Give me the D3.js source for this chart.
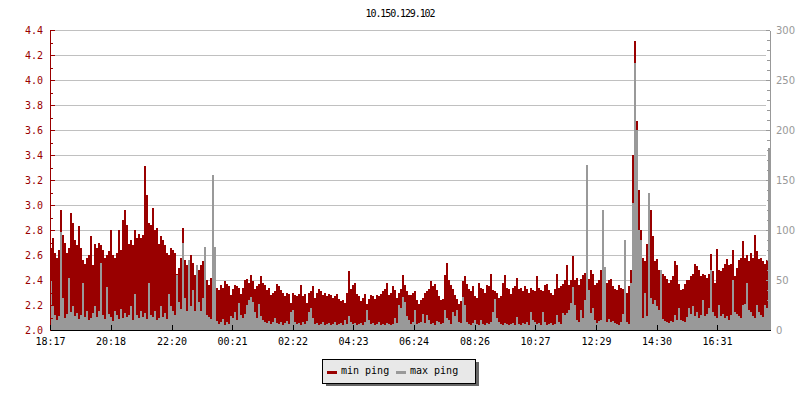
<!DOCTYPE html>
<html><head><meta charset="utf-8">
<script src="https://cdn.jsdelivr.net/npm/d3@7"></script>
<style>body{margin:0;background:#fff}svg{display:block}</style>
</head><body><svg id="c" width="800" height="400"></svg>
<script>
const title = "10.150.129.102";
const seriesNames = ["min ping", "max ping"];
const timeLabels = ["18:17","20:18","22:20","00:21","02:22","04:23","06:24","08:26","10:27","12:29","14:30","16:31"];
const leftTicks = [2.0,2.2,2.4,2.6,2.8,3.0,3.2,3.4,3.6,3.8,4.0,4.2,4.4];
const rightTicks = [0,50,100,150,200,250,300];

// min ping (left axis), one value per 4-minute slot
const minPing = [
2.66,2.74,2.62,2.58,2.64,2.96,2.76,2.70,2.62,2.66,
2.94,2.86,2.72,2.68,2.83,2.66,2.56,2.53,2.58,2.60,
2.75,2.52,2.69,2.66,2.70,2.68,2.64,2.58,2.60,2.63,
2.80,2.60,2.58,2.62,2.80,2.64,2.88,2.96,2.84,2.69,
2.72,2.68,2.80,2.74,2.77,2.74,2.76,3.31,3.08,2.86,
2.84,2.98,2.80,2.82,2.69,2.75,2.72,2.68,2.62,2.60,
2.66,2.64,2.62,2.45,2.50,2.58,2.82,2.56,2.52,2.43,
2.60,2.54,2.44,2.46,2.48,2.52,2.55,2.50,2.40,2.36,
2.42,2.38,2.36,2.34,2.32,2.36,2.34,2.39,2.37,2.35,
2.28,2.33,2.36,2.35,2.34,2.29,2.34,2.40,2.41,2.38,
2.44,2.39,2.33,2.35,2.37,2.43,2.38,2.36,2.32,2.34,
2.28,2.30,2.31,2.37,2.35,2.32,2.30,2.27,2.30,2.29,
2.22,2.30,2.28,2.27,2.29,2.36,2.27,2.29,2.22,2.30,
2.31,2.35,2.26,2.30,2.33,2.31,2.28,2.30,2.27,2.29,
2.28,2.26,2.27,2.29,2.25,2.23,2.24,2.22,2.30,2.47,
2.33,2.36,2.38,2.29,2.27,2.23,2.26,2.29,2.21,2.25,
2.28,2.27,2.25,2.28,2.27,2.29,2.31,2.33,2.38,2.28,
2.30,2.35,2.32,2.26,2.30,2.33,2.44,2.36,2.31,2.28,
2.28,2.30,2.31,2.24,2.21,2.24,2.26,2.30,2.31,2.33,
2.39,2.35,2.37,2.32,2.27,2.24,2.25,2.44,2.54,2.40,
2.36,2.33,2.28,2.25,2.21,2.23,2.39,2.43,2.37,2.33,
2.31,2.35,2.27,2.26,2.38,2.34,2.33,2.30,2.36,2.35,
2.45,2.32,2.31,2.30,2.26,2.27,2.38,2.44,2.34,2.33,
2.29,2.34,2.35,2.42,2.33,2.34,2.31,2.35,2.33,2.30,
2.34,2.32,2.31,2.43,2.34,2.32,2.31,2.36,2.37,2.32,
2.30,2.28,2.33,2.45,2.34,2.35,2.37,2.40,2.52,2.36,
2.40,2.59,2.40,2.42,2.36,2.41,2.44,2.46,2.38,2.41,
2.48,2.45,2.36,2.38,2.40,2.48,2.35,2.50,2.38,2.40,
2.41,2.35,2.33,2.32,2.36,2.34,2.33,2.40,2.30,2.35,
2.48,3.40,4.31,3.67,3.12,2.80,2.58,2.55,2.69,2.80,
2.96,2.75,2.55,2.57,2.48,2.46,2.45,2.43,2.41,2.38,
2.40,2.43,2.55,2.52,2.37,2.32,2.33,2.37,2.40,2.40,
2.43,2.45,2.53,2.51,2.48,2.43,2.45,2.44,2.42,2.45,
2.61,2.47,2.38,2.65,2.48,2.47,2.50,2.53,2.57,2.52,
2.53,2.64,2.43,2.50,2.56,2.58,2.71,2.58,2.60,2.55,
2.62,2.58,2.76,2.63,2.57,2.58,2.55,2.53,2.56,2.50
];

// max ping (right axis), same slots
const maxPing = [
50,24,15,10,14,98,32,12,16,52,
18,24,14,17,11,15,47,13,19,10,
12,17,24,13,19,67,15,11,43,16,
13,9,19,15,11,21,12,17,13,15,
24,10,36,15,12,19,13,17,11,47,
15,13,19,10,12,24,13,17,11,36,
24,19,15,55,28,21,87,32,19,70,
24,40,19,65,28,19,32,83,15,13,
11,155,83,9,6,8,11,5,8,6,
14,12,18,10,27,15,12,16,25,30,
33,28,18,12,26,14,10,8,7,9,
6,8,12,7,6,8,5,7,9,6,
18,20,8,6,7,5,8,6,9,18,
22,12,6,7,5,6,8,5,6,7,
5,6,8,5,6,7,5,10,6,14,
8,6,7,5,6,7,5,8,20,10,
6,7,5,6,8,5,6,5,7,6,
5,6,12,7,25,22,33,28,14,10,
6,8,20,6,7,8,16,7,15,10,
6,7,5,9,8,6,7,20,12,10,
6,18,14,20,8,7,33,25,8,6,
5,7,10,6,5,10,6,5,7,6,
8,18,31,12,8,6,5,7,6,5,
6,7,5,13,6,5,7,6,8,5,
18,10,8,6,7,5,18,8,5,6,
7,5,6,15,8,6,17,15,17,20,
27,43,25,10,8,20,12,30,165,40,
17,22,10,7,9,10,120,63,8,11,
8,9,7,6,5,8,16,90,8,6,
47,127,267,200,100,90,12,37,14,137,
32,26,30,24,20,60,11,9,8,7,
9,8,15,10,22,10,9,8,13,22,
16,24,14,18,12,15,30,14,16,22,
60,18,14,12,25,14,16,12,14,10,
15,50,18,16,14,12,25,26,47,20,
18,14,12,25,18,15,13,25,22,182
];

const RED = "#990000", GRAY = "#999999";
const MONO = "'DejaVu Sans Mono', monospace";
const svg = d3.select("#c");
const L = 50, R = 770, T = 30, B = 330;

const x = d3.scaleLinear().domain([0, minPing.length]).range([L, R]);
const yL = d3.scaleLinear().domain([2.0, 4.4]).range([B, T]);
const yR = d3.scaleLinear().domain([0, 300]).range([B, T]);
const toMin = s => { const [h, m] = s.split(":").map(Number); return h * 60 + m; };
const t0 = toMin(timeLabels[0]);
const tickMins = timeLabels.map(s => ((toMin(s) - t0) + 1440) % 1440);
const xt = d3.scaleLinear().domain([0, 1440]).range([L, R]);

// gridlines
svg.append("g").selectAll("line").data(leftTicks.slice(1)).join("line")
  .attr("x1", L).attr("x2", R - 4)
  .attr("y1", d => Math.round(yL(d)) + 0.5).attr("y2", d => Math.round(yL(d)) + 0.5)
  .attr("stroke", "#c0c0c0").attr("stroke-width", 1);

// bars
const gb = svg.append("g").attr("shape-rendering", "crispEdges");
gb.selectAll("rect.min").data(minPing).join("rect").attr("class", "min")
  .attr("x", (d, i) => x(i)).attr("width", (d, i) => x(i + 1) - x(i))
  .attr("y", d => yL(d)).attr("height", d => B - yL(d)).attr("fill", RED);
gb.selectAll("rect.max").data(maxPing).join("rect").attr("class", "max")
  .attr("x", (d, i) => x(i)).attr("width", (d, i) => x(i + 1) - x(i))
  .attr("y", d => yR(d)).attr("height", d => B - yR(d)).attr("fill", GRAY);

// left axis
const gl = svg.append("g").attr("transform", `translate(${L},0)`)
  .call(d3.axisLeft(yL).tickValues(leftTicks).tickSize(-5).tickSizeOuter(0).tickPadding(7).tickFormat(d3.format(".1f")));
svg.append("g").attr("transform", `translate(${L},0)`)
  .call(d3.axisLeft(yL).tickValues(d3.range(2.1, 4.4, 0.2)).tickSize(-3).tickFormat(""))
  .call(g => g.select(".domain").remove());
// right axis
const gr = svg.append("g").attr("transform", `translate(${R},0)`)
  .call(d3.axisRight(yR).tickValues(rightTicks).tickSize(-4).tickSizeOuter(0).tickPadding(6));
svg.append("g").attr("transform", `translate(${R},0)`)
  .call(d3.axisRight(yR).tickValues(d3.range(10, 300, 10).filter(v => v % 50)).tickSize(-3).tickFormat(""))
  .call(g => g.select(".domain").remove());
// bottom axis
const gx = svg.append("g").attr("transform", `translate(0,${B})`)
  .call(d3.axisBottom(xt).tickValues(tickMins).tickFormat((d, i) => timeLabels[i]).tickSize(-5).tickSizeOuter(0).tickPadding(8));

svg.selectAll(".tick line, .domain").attr("shape-rendering", "crispEdges");
svg.selectAll("g").filter(function(){ return this.getAttribute("transform") === `translate(${L},0)`; })
  .selectAll("line, path").attr("stroke", RED);
gl.selectAll("text").attr("fill", RED).attr("font-family", MONO).attr("font-size", 10);
svg.selectAll("g").filter(function(){ return this.getAttribute("transform") === `translate(${R},0)`; })
  .selectAll("line, path").attr("stroke", GRAY);
gr.selectAll("text").attr("fill", GRAY).attr("font-family", "'DejaVu Sans', sans-serif").attr("font-size", 10);
gx.selectAll("line, path").attr("stroke", "#000");
gx.selectAll("text").attr("fill", "#000").attr("font-family", MONO).attr("font-size", 10);

// title
svg.append("text").attr("x", 400).attr("y", 17).attr("text-anchor", "middle")
  .attr("font-family", MONO).attr("font-size", 10).attr("letter-spacing", "-1.1px")
  .attr("fill", "#000").text(title);

// legend
const lg = svg.append("g").attr("shape-rendering", "crispEdges");
lg.append("rect").attr("x", 326).attr("y", 362).attr("width", 153).attr("height", 24).attr("fill", "#666");
lg.append("rect").attr("x", 322.5).attr("y", 359.5).attr("width", 153).attr("height", 24)
  .attr("fill", "#e8e8e8").attr("stroke", "#000").attr("stroke-width", 1);
const items = [{name: seriesNames[0], color: RED, sx: 327, tx: 341}, {name: seriesNames[1], color: GRAY, sx: 396, tx: 410}];
items.forEach(it => {
  lg.append("rect").attr("x", it.sx).attr("y", 371).attr("width", 10).attr("height", 2.5).attr("fill", it.color);
  lg.append("text").attr("x", it.tx).attr("y", 374).attr("font-family", MONO).attr("font-size", 10)
    .attr("fill", "#000").text(it.name);
});
</script>
</body></html>
